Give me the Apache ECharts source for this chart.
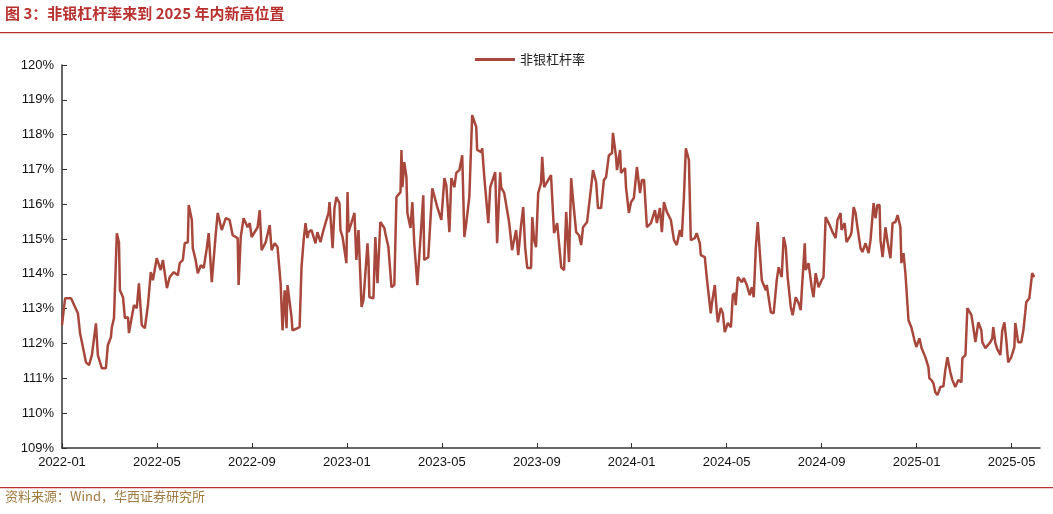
<!DOCTYPE html>
<html><head><meta charset="utf-8">
<script src="https://cdn.jsdelivr.net/npm/echarts@6/dist/echarts.min.js"></script>
<style>html,body{margin:0;padding:0;background:#fff}#c{width:1053px;height:514px}</style>
</head><body><div id="c"></div>
<script>
// months elapsed since 2022-01-01 (time position of each observation)
const monthsSince2022 = [0.00,0.13,0.38,0.67,0.76,1.01,1.14,1.26,1.43,1.51,1.68,1.85,1.93,2.06,2.10,2.19,2.31,2.40,2.44,2.57,2.65,2.78,2.82,2.94,3.03,3.15,3.24,3.36,3.49,3.62,3.74,3.83,3.99,4.16,4.25,4.42,4.54,4.71,4.88,4.96,5.09,5.17,5.30,5.34,5.47,5.51,5.63,5.72,5.85,5.97,6.10,6.18,6.31,6.48,6.56,6.73,6.90,7.06,7.19,7.40,7.44,7.53,7.65,7.82,7.91,7.99,8.07,8.24,8.33,8.41,8.58,8.75,8.83,8.96,9.08,9.21,9.29,9.38,9.46,9.50,9.67,9.71,9.92,10.01,10.09,10.18,10.26,10.34,10.39,10.51,10.68,10.76,10.89,10.98,11.10,11.23,11.27,11.35,11.40,11.48,11.56,11.69,11.73,11.82,11.98,12.03,12.07,12.19,12.32,12.40,12.49,12.62,12.70,12.87,12.91,12.95,13.12,13.20,13.29,13.41,13.58,13.62,13.75,13.88,14.00,14.09,14.26,14.30,14.34,14.42,14.51,14.55,14.68,14.76,14.84,14.97,15.18,15.22,15.26,15.43,15.60,15.81,15.98,16.11,16.19,16.32,16.40,16.53,16.61,16.74,16.86,16.95,17.03,17.16,17.28,17.45,17.49,17.66,17.70,17.79,17.96,18.04,18.12,18.25,18.33,18.46,18.50,18.63,18.71,18.84,18.96,19.13,19.22,19.34,19.43,19.51,19.60,19.76,19.81,19.89,19.97,20.06,20.18,20.23,20.31,20.60,20.73,20.86,21.03,21.15,21.24,21.36,21.45,21.53,21.66,21.78,21.87,21.95,22.12,22.29,22.37,22.50,22.58,22.71,22.83,22.92,23.04,23.17,23.21,23.34,23.38,23.51,23.55,23.72,23.76,23.88,23.97,24.09,24.22,24.35,24.43,24.52,24.64,24.81,24.98,25.06,25.19,25.27,25.36,25.48,25.65,25.78,25.90,26.03,26.11,26.20,26.28,26.41,26.49,26.66,26.74,26.87,26.91,27.08,27.16,27.33,27.38,27.50,27.59,27.63,27.75,27.84,27.92,28.05,28.18,28.26,28.34,28.38,28.47,28.64,28.72,28.85,28.97,29.06,29.14,29.23,29.31,29.39,29.48,29.65,29.69,29.86,29.98,30.11,30.19,30.32,30.40,30.49,30.57,30.70,30.78,30.91,31.03,31.12,31.16,31.29,31.33,31.45,31.58,31.66,31.75,31.87,32.00,32.08,32.17,32.34,32.46,32.59,32.67,32.80,32.84,32.97,33.05,33.22,33.26,33.35,33.43,33.51,33.64,33.72,33.85,33.98,34.06,34.19,34.27,34.35,34.44,34.48,34.57,34.69,34.78,34.90,34.99,35.11,35.20,35.32,35.36,35.45,35.53,35.66,35.78,35.91,35.99,36.12,36.21,36.37,36.50,36.54,36.63,36.71,36.79,36.88,37.00,37.13,37.21,37.30,37.42,37.51,37.63,37.76,37.89,37.93,38.06,38.14,38.31,38.39,38.48,38.52,38.60,38.73,38.77,38.90,38.98,39.11,39.19,39.23,39.32,39.40,39.53,39.61,39.70,39.78,39.86,39.99,40.12,40.16,40.24,40.28,40.41,40.50,40.58,40.62,40.75,40.83,40.87,40.96];
// 非银杠杆率 (%)
const leverage = [112.53,113.30,113.30,112.87,112.30,111.46,111.38,111.67,112.58,111.67,111.29,111.29,111.95,112.18,112.47,112.73,115.17,114.91,113.53,113.33,112.73,112.76,112.30,112.76,113.10,113.02,113.73,112.53,112.44,113.10,114.05,113.82,114.45,114.11,114.40,113.59,113.91,114.05,113.96,114.31,114.40,114.88,114.91,115.98,115.55,114.74,114.40,114.02,114.25,114.17,114.74,115.17,113.76,115.17,115.75,115.26,115.60,115.55,115.11,115.03,113.68,115.06,115.60,115.34,115.46,115.06,115.11,115.34,115.83,114.68,114.91,115.40,114.68,114.88,114.77,113.73,112.38,113.53,112.44,113.68,112.76,112.38,112.44,112.47,114.19,114.97,115.46,115.03,115.20,115.26,114.88,115.20,114.91,115.17,115.46,115.75,116.06,116.03,114.74,115.89,116.21,116.03,115.26,115.06,114.31,116.35,115.20,115.46,115.75,114.40,115.26,113.05,113.25,114.88,114.40,113.33,113.30,115.06,113.73,115.49,115.32,115.17,114.77,113.62,113.68,116.21,116.35,117.56,116.49,117.21,116.78,115.75,115.32,116.06,114.88,113.68,115.83,116.26,114.40,114.48,116.46,115.92,115.55,116.75,116.55,115.20,116.75,116.49,116.90,116.98,117.41,115.06,115.46,116.21,118.56,118.22,117.56,117.50,117.61,116.78,115.46,116.49,116.49,116.92,114.88,116.92,116.49,116.32,116.32,115.46,114.68,115.26,114.54,115.40,115.92,114.77,114.17,114.17,115.63,114.97,114.77,116.32,116.61,117.36,116.49,116.84,115.17,115.46,114.19,114.11,115.78,114.34,116.75,116.12,115.20,115.11,114.83,115.34,115.49,116.49,116.98,116.64,115.89,115.89,116.70,116.78,117.41,117.47,118.05,117.36,116.98,117.56,116.90,117.04,116.49,115.75,116.06,116.18,117.07,116.32,116.70,116.70,115.34,115.46,115.83,115.46,115.89,115.20,116.06,115.78,115.55,114.97,114.83,115.26,115.06,116.21,117.61,117.27,114.97,115.03,115.17,114.88,114.54,114.48,113.91,112.87,113.16,113.68,112.87,112.61,113.02,112.87,112.33,112.59,112.47,113.39,113.45,113.10,113.91,113.76,113.88,113.68,113.39,113.62,113.33,114.77,115.49,114.68,113.82,113.53,113.68,112.90,112.87,113.82,114.19,113.91,115.06,114.77,113.91,113.05,112.81,113.33,113.16,112.96,113.45,114.88,114.11,114.31,113.62,113.33,114.02,113.62,113.82,113.91,115.63,115.40,115.20,115.03,115.55,115.75,115.26,115.46,114.91,115.11,115.20,115.92,115.75,115.34,114.74,114.63,114.88,114.60,114.97,116.03,115.60,115.98,115.98,114.97,114.48,115.34,114.91,114.45,115.46,115.49,115.69,115.34,114.31,114.60,114.02,112.67,112.47,112.10,111.90,112.15,111.87,111.61,111.32,111.00,110.95,110.86,110.60,110.52,110.75,110.77,111.23,111.61,111.18,110.95,110.75,110.95,110.89,111.58,111.67,113.02,112.82,112.47,112.04,112.01,112.61,112.38,112.04,111.87,111.84,112.04,112.15,112.47,112.01,111.84,111.67,112.38,112.61,112.10,111.46,111.61,111.90,112.59,112.61,112.04,112.04,112.38,112.90,113.19,113.30,113.25,114.02,113.91];
const yTicks = [109,110,111,112,113,114,115,116,117,118,119,120];
const xTickLabels = ['2022-01','2022-05','2022-09','2023-01','2023-05','2023-09','2024-01','2024-05','2024-09','2025-01','2025-05'];

const data = monthsSince2022.map((m,i)=>[m, leverage[i]]);
const chart = echarts.init(document.getElementById('c'));
const font = '"Noto Sans CJK SC", "Noto Sans", sans-serif';
chart.setOption({
  animation:false,
  grid:{left:62,right:13,top:65,bottom:66,containLabel:false},
  legend:{top:48,left:470,itemWidth:40,itemHeight:3,icon:'rect',itemGap:6,
    textStyle:{fontSize:13,color:'#222',fontFamily:font},data:['非银杠杆率']},
  xAxis:{type:'value',min:0,max:41.2,interval:4,
    axisLine:{lineStyle:{color:'#333',width:1.5}},
    axisTick:{inside:true,length:5,lineStyle:{color:'#333'}},
    splitLine:{show:false},
    axisLabel:{color:'#111',fontSize:13,fontFamily:'"Liberation Sans", Arial, sans-serif',margin:8,showMaxLabel:false,
      formatter:v=>xTickLabels[Math.round(v/4)]||''}},
  yAxis:{type:'value',min:yTicks[0],max:yTicks[yTicks.length-1],interval:1,
    axisLine:{show:true,lineStyle:{color:'#333',width:1.5}},
    axisTick:{show:true,inside:true,length:5,lineStyle:{color:'#333'}},
    splitLine:{show:false},
    axisLabel:{color:'#111',fontSize:13,fontFamily:'"Liberation Sans", Arial, sans-serif',formatter:v=>v+'%'}},
  series:[{name:'非银杠杆率',type:'line',data:data,showSymbol:false,
    lineStyle:{color:'#A8473B',width:2.5},itemStyle:{color:'#A8473B'}}],
  graphic:[
    {type:'text',left:5,top:6,style:{text:'图 3：非银杠杆率来到 2025 年内新高位置',fill:'#B8312F',fontSize:15,fontWeight:'bold',fontFamily:font}},
    {type:'rect',left:0,top:32,shape:{width:1053,height:1.2},style:{fill:'#B8312F'}},
    {type:'rect',left:0,top:487,shape:{width:1053,height:1.2},style:{fill:'#B8312F'}},
    {type:'text',left:5,top:490,style:{text:'资料来源：Wind，华西证券研究所',fill:'#A07A3E',fontSize:13,fontFamily:font}}
  ]
});
</script></body></html>
